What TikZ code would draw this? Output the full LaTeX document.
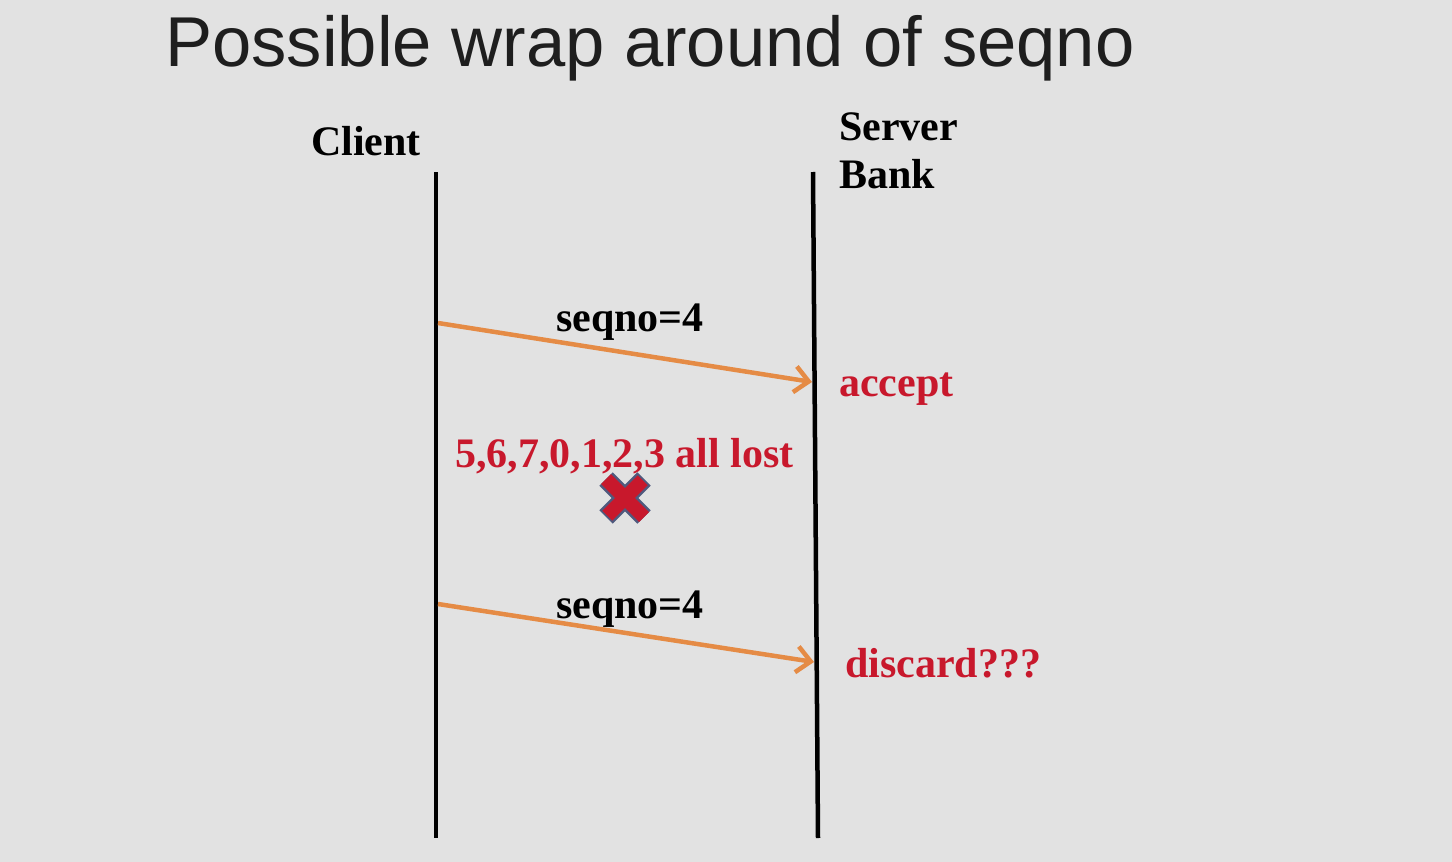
\documentclass[tikz,border=0pt]{standalone}
\usepackage{fontspec}
\setmainfont{Liberation Serif}
\newfontfamily\titlefont{Liberation Sans}
\usetikzlibrary{arrows.meta}
\definecolor{bg}{HTML}{E2E2E2}
\definecolor{msg}{HTML}{E58B45}
\definecolor{lab}{HTML}{C8182C}
\definecolor{xout}{HTML}{4F5A7E}
\begin{document}
\begin{tikzpicture}[x=1pt,y=-1pt,
  lifeline/.style={line width=4.5pt,black},
  msgarrow/.style={line width=4.5pt,msg,-{Straight Barb[length=14pt,width=26pt,line width=4.5pt]}},
  head/.style={font=\fontsize{42}{48}\selectfont\bfseries,inner sep=0pt,anchor=base west},
  seq/.style={font=\fontsize{42}{48}\selectfont\bfseries,inner sep=0pt,anchor=base},
  redlab/.style={font=\fontsize{42}{48}\selectfont\bfseries,text=lab,inner sep=0pt,anchor=base west}]
\fill[bg] (0,0) rectangle (1452,862);
\useasboundingbox (0,0) rectangle (1452,862);
\node[inner sep=0pt,anchor=base west,font=\titlefont\fontsize{70.6}{80}\selectfont,text={rgb,255:red,30;green,30;blue,30}] (title) at (165,66) {Possible wrap around of seqno};
\node[head] (client) at (311,155) {Client};
\node[head] (server) at (839,140) {Server};
\node[head] (bank) at (839,188) {Bank};
\coordinate (ctop) at (436,172);
\coordinate (cbot) at (436,838);
\coordinate (stop) at (813,172);
\coordinate (sbot) at (818,838);
\draw[lifeline] (ctop) -- (cbot);
\draw[lifeline] (stop) -- (sbot);
\coordinate (a1s) at (438,323);
\coordinate (a1e) at (812,382);
\coordinate (a2s) at (438,604);
\coordinate (a2e) at (814,662);
\draw[msgarrow] (a1s) -- (a1e);
\draw[msgarrow] (a2s) -- (a2e);
\node[seq] (seq1) at (630,331) {seqno=4};
\node[seq] (seq2) at (630,618) {seqno=4};
\node[redlab] (accept) at (839,396) {accept};
\node[redlab] (lost) at (455,467) {5,6,7,0,1,2,3 all lost};
\node[redlab] (discard) at (845,677) {discard???};
\coordinate (xa) at (606,479);
\coordinate (xb) at (644,517);
\coordinate (xc) at (644,479);
\coordinate (xd) at (606,517);
\draw[xout,line width=19pt] (xa) -- (xb) (xc) -- (xd);
\draw[lab,line width=14pt,shorten <=1.8pt,shorten >=1.8pt] (xa) -- (xb) (xc) -- (xd);
\end{tikzpicture}
\end{document}
